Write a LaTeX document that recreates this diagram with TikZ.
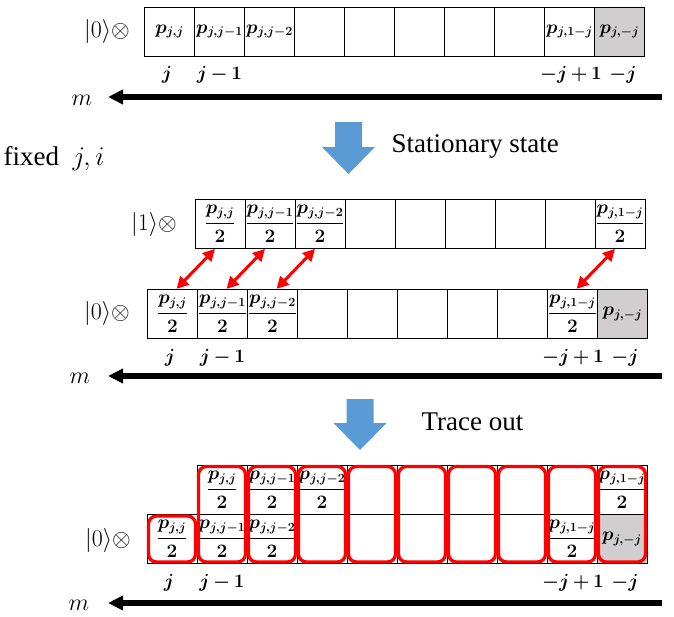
\RequirePackage{fix-cm}
\documentclass[tikz,border=0pt]{standalone}
\usepackage{amsmath,amssymb}
\usepackage{fontspec}
\setmainfont{Liberation Serif}
\usepackage{tikz}
\usetikzlibrary{arrows.meta,positioning,fit,calc}
\definecolor{grisCase}{RGB}{208,206,206}
\definecolor{bleuFleche}{RGB}{91,155,213}
\DeclareMathSizes{19}{19}{12.5}{10}
\newcommand{\bp}[1]{\boldsymbol{p_{#1}}}
\newcommand{\bh}[1]{\boldsymbol{\dfrac{p_{#1}}{2}}}
\newcommand{\etplus}{\mkern3mu{+}\mkern3mu}
\newcommand{\etmoins}{\mkern3mu{-}\mkern3mu}

\begin{document}
\begin{tikzpicture}[x=1pt,y=-1pt,
  cell/.style={draw,line width=0.8pt,minimum width=50pt,minimum height=49pt,inner sep=0pt,
               font=\fontsize{19}{21}\selectfont},
  grise/.style={cell,fill=grisCase},
  ket/.style={font=\fontsize{24}{28}\selectfont},
  etiq/.style={font=\fontsize{19}{21}\selectfont},
  axe/.style={line width=5.5pt,-{Triangle[length=15pt,width=14pt]}},
  lien/.style={red,line width=3pt,{Triangle[length=12pt,width=12pt]}-{Triangle[length=12pt,width=12pt]}},
  cadre/.style={draw=red,line width=3.3pt,rounded corners=8pt,inner sep=-2pt},
  fleche/.style={fill=bleuFleche},
  legende/.style={font=\fontsize{27}{30}\selectfont,anchor=west}]
  \useasboundingbox (0,0) rectangle (674,616);

  % --- initial state
  \node[ket] (k0) at (107,31.5) {$|0\rangle\otimes$};
  \foreach \txt [count=\k from 0] in {{$\bp{j,j}$},{$\bp{j,j-1}$},{$\bp{j,j-2}$},{},{},{},{},{},{$\bp{j,1-j}$}}
    \node[cell] (a\k) at ({169.5+50*\k},31.5) {\txt};
  \node[grise] (a9) at (619.5,31.5) {$\bp{j,-j}$};
  \node[etiq] (n0) at (167,75) {$\boldsymbol{j}$};
  \node[etiq] (n1) at (219.5,75) {$\boldsymbol{j\etmoins 1}$};
  \node[etiq] (n8) at (571,75) {$\boldsymbol{-j\etplus 1}$};
  \node[etiq] (n9) at (623,75) {$\boldsymbol{-j}$};
  \node[ket] (m0) at (82,100) {$m$};
  \coordinate (d0) at (662,97);
  \coordinate (g0) at (108,97);
  \draw[axe] (d0) -- (g0);

  \coordinate (f1) at (348.5,122);
  \fill[fleche] (f1) ++(-13.5,0) -- ++(0,25) -- ++(-13,0) -- ++(26.5,27) -- ++(26.5,-27) -- ++(-13,0) -- ++(0,-25) -- cycle;
  \node[legende] (t1) at (388,146) {Stationary state};
  \node[legende] (fx) at (0,159) {fixed~~$j,i$};

  % --- stationary state
  \node[ket] (k1) at (154,224) {$|1\rangle\otimes$};
  \foreach \txt [count=\k from 0] in {{$\bh{j,j}$},{$\bh{j,j-1}$},{$\bh{j,j-2}$},{},{},{},{},{},{$\bh{j,1-j}$}}
    \node[cell] (h\k) at ({220+50*\k},224) {\txt};
  \node[ket] (k2) at (107,313) {$|0\rangle\otimes$};
  \foreach \txt [count=\k from 0] in {{$\bh{j,j}$},{$\bh{j,j-1}$},{$\bh{j,j-2}$},{},{},{},{},{},{$\bh{j,1-j}$}}
    \node[cell] (g\k) at ({172.5+50*\k},313.8) {\txt};
  \node[grise] (g9) at (622.5,313.8) {$\bp{j,-j}$};
  \foreach \k in {0,1,2,8}
    \draw[lien] ([xshift=-5pt]h\k.south) -- ([xshift=4pt]g\k.north);
  \node[etiq] (p0) at (170,358) {$\boldsymbol{j}$};
  \node[etiq] (p1) at (222.5,358) {$\boldsymbol{j\etmoins 1}$};
  \node[etiq] (p8) at (573,358) {$\boldsymbol{-j\etplus 1}$};
  \node[etiq] (p9) at (625,358) {$\boldsymbol{-j}$};
  \node[ket] (m1) at (80,378) {$m$};
  \coordinate (d1) at (662,376);
  \coordinate (g1) at (108,376);
  \draw[axe] (d1) -- (g1);

  \coordinate (f2) at (360,399);
  \fill[fleche] (f2) ++(-13.5,0) -- ++(0,24) -- ++(-13,0) -- ++(26.5,27) -- ++(26.5,-27) -- ++(-13,0) -- ++(0,-24) -- cycle;
  \node[legende] (t2) at (418,422) {Trace out};

  % --- trace out
  \node[ket] (k3) at (108,540) {$|0\rangle\otimes$};
  \foreach \txt [count=\k from 0] in {{$\bh{j,j}$},{$\bh{j,j-1}$},{$\bh{j,j-2}$},{},{},{},{},{},{$\bh{j,1-j}$}}
    \node[cell,line width=1pt] (c\k) at ({222+50*\k},489.5) {\txt};
  \foreach \txt [count=\k from 0] in {{$\bh{j,j}$},{$\bh{j,j-1}$},{$\bh{j,j-2}$},{},{},{},{},{},{$\bh{j,1-j}$}}
    \node[cell,line width=1pt] (b\k) at ({172+50*\k},539) {\txt};
  \node[grise,line width=1pt] (b9) at (622,539) {$\bp{j,-j}$};
  \node[cadre,fit=(b0)] (r0) {};
  \foreach \k [evaluate=\k as \j using int(\k-1)] in {1,...,9}
    \node[cadre,fit=(c\j)(b\k)] (r\k) {};
  \node[etiq] (q0) at (169,583) {$\boldsymbol{j}$};
  \node[etiq] (q1) at (222,583) {$\boldsymbol{j\etmoins 1}$};
  \node[etiq] (q8) at (573,583) {$\boldsymbol{-j\etplus 1}$};
  \node[etiq] (q9) at (625,583) {$\boldsymbol{-j}$};
  \node[ket] (m2) at (79,605) {$m$};
  \coordinate (d2) at (662,603);
  \coordinate (g2) at (108,603);
  \draw[axe] (d2) -- (g2);
\end{tikzpicture}
\end{document}
